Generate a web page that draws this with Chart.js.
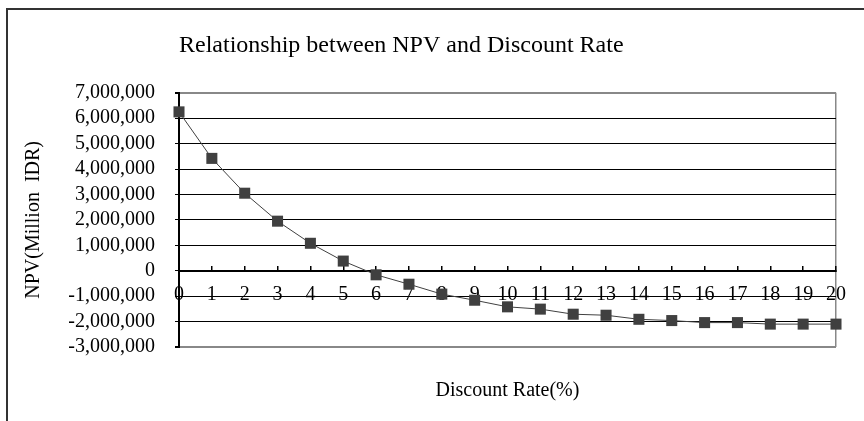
<!DOCTYPE html>
<html>
<head>
<meta charset="utf-8">
<script src="https://cdn.jsdelivr.net/npm/chart.js@4/dist/chart.umd.min.js"></script>
<style>
  html, body { margin: 0; padding: 0; background: #fff; overflow: hidden; }
  #wrap { position: relative; width: 864px; height: 421px; }
  #frame { position: absolute; left: 6px; top: 8px; width: 900px; height: 500px;
           border-left: 2px solid #333; border-top: 2px solid #333; pointer-events: none; }
  canvas { position: absolute; left: 0; top: 0; }
</style>
</head>
<body>
<div id="wrap">
  <canvas id="c" width="864" height="421"></canvas>
  <div id="frame"></div>
</div>
<script>
const discountRates = ['0','1','2','3','4','5','6','7','8','9','10','11','12','13','14','15','16','17','18','19','20'];
const npvValues = [6250000, 4420000, 3050000, 1950000, 1080000, 380000, -160000, -530000, -920000, -1160000,
                   -1420000, -1510000, -1710000, -1750000, -1910000, -1960000, -2040000, -2040000, -2100000, -2100000, -2100000];
const yMin = -3000000;
const yMax = 7000000;
const yStep = 1000000;
const chartTitle = 'Relationship between NPV and Discount Rate';
const xTitle = 'Discount Rate(%)';
const yTitle = 'NPV(Million  IDR)';

const serif = 'Liberation Serif';

new Chart(document.getElementById('c'), {
  type: 'line',
  data: {
    labels: discountRates,
    datasets: [{
      data: npvValues,
      borderColor: '#404040',
      borderWidth: 1,
      tension: 0,
      pointStyle: 'rect',
      pointRadius: 7.8,
      pointBackgroundColor: '#404040',
      pointBorderColor: '#404040',
      pointBorderWidth: 0,
      clip: false
    }]
  },
  options: {
    responsive: false,
    animation: false,
    devicePixelRatio: 1,
    layout: { padding: { left: 0, right: 26, top: 0, bottom: 0 } },
    plugins: {
      legend: { display: false },
      tooltip: { enabled: false },
      title: {
        display: true,
        text: chartTitle,
        align: 'start',
        fullSize: false,
        color: '#000',
        font: { family: serif, size: 24, weight: 'normal' },
        padding: { top: 31, bottom: 33 }
      },
      subtitle: {
        display: true,
        text: xTitle,
        position: 'bottom',
        fullSize: false,
        color: '#000',
        font: { family: serif, size: 20, weight: 'normal' },
        padding: { top: 32, bottom: 18 }
      }
    },
    scales: {
      x: {
        type: 'category',
        position: { y: 0 },
        offset: false,
        afterFit: s => { s.height = 0; },
        grid: {
          drawOnChartArea: true,
          color: ctx => (ctx.index === discountRates.length - 1 ? '#888' : 'rgba(0,0,0,0)'),
          tickColor: '#000',
          tickLength: -6,
          tickWidth: 1.5,
          lineWidth: 1.5
        },
        border: { display: true, color: '#000', width: 2 },
        ticks: {
          autoSkip: false,
          maxRotation: 0,
          minRotation: 0,
          padding: 18,
          color: '#000',
          font: { family: serif, size: 20 }
        }
      },
      y: {
        type: 'linear',
        min: yMin,
        max: yMax,
        afterFit: s => { s.width = 179; },
        grid: {
          color: ctx => ((ctx.tick && (ctx.tick.value === yMax || ctx.tick.value === yMin)) ? '#888' : '#000'),
          tickColor: '#000',
          tickLength: 4,
          lineWidth: ctx => ((ctx.tick && (ctx.tick.value === yMax || ctx.tick.value === yMin)) ? 2 : 1)
        },
        border: { display: true, color: '#000', width: 2 },
        ticks: {
          autoSkip: false,
          stepSize: yStep,
          padding: 20,
          color: '#000',
          font: { family: serif, size: 20 },
          callback: v => Number(v).toLocaleString('en-US')
        },
        title: {
          display: true,
          text: yTitle,
          color: '#000',
          font: { family: serif, size: 20 },
          padding: { top: 22, bottom: 0 }
        }
      }
    }
  }
});
</script>
</body>
</html>
